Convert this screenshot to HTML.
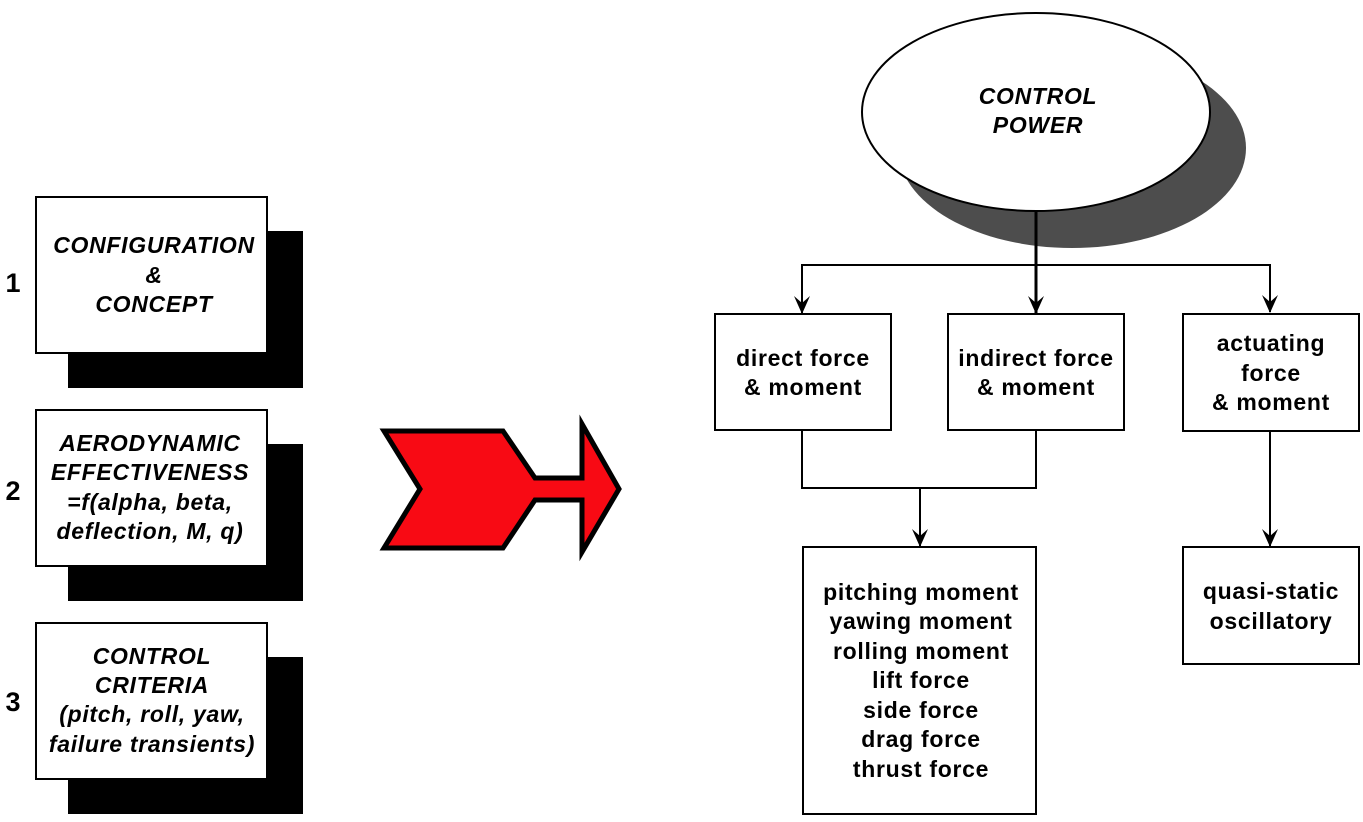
<!DOCTYPE html>
<html><head><style>
body{margin:0;background:#fff;width:1363px;height:817px;overflow:hidden}
svg text{font-family:"Liberation Sans",sans-serif;font-weight:bold;font-size:23px;letter-spacing:0.7px;text-anchor:middle}
svg text.n{font-size:27px;letter-spacing:0}
.i{font-style:italic}
</style></head><body>
<svg width="1363" height="817" viewBox="0 0 1363 817">
<defs>
<marker id="b" markerWidth="16" markerHeight="18" refX="8" refY="17" orient="0" markerUnits="userSpaceOnUse" viewBox="0 0 16 18"><path d="M0,0 L8,7 L16,0 L8,18 Z" fill="#000"/></marker></defs>
<g stroke="#000" stroke-width="2">
<rect x="69" y="232" width="233" height="155" fill="#000"/>
<rect x="36" y="197" width="231" height="156" fill="#fff"/>
<rect x="69" y="445" width="233" height="155" fill="#000"/>
<rect x="36" y="410" width="231" height="156" fill="#fff"/>
<rect x="69" y="658" width="233" height="155" fill="#000"/>
<rect x="36" y="623" width="231" height="156" fill="#fff"/>
</g>
<text x="13" y="292" class="n">1</text>
<text x="13" y="500" class="n">2</text>
<text x="13" y="711" class="n">3</text>
<text x="154" y="253" class="i">CONFIGURATION</text>
<text x="154" y="283" class="i">&amp;</text>
<text x="154" y="312" class="i">CONCEPT</text>
<text x="150" y="451" class="i">AERODYNAMIC</text>
<text x="150" y="480" class="i">EFFECTIVENESS</text>
<text x="150" y="510" class="i">=f(alpha, beta,</text>
<text x="150" y="539" class="i">deflection, M, q)</text>
<text x="152" y="664" class="i">CONTROL</text>
<text x="152" y="693" class="i">CRITERIA</text>
<text x="152" y="722" class="i">(pitch, roll, yaw,</text>
<text x="152" y="752" class="i">failure transients)</text>
<path d="M384,431 L503,431 L535,478 L582,478 L582,424 L619,489 L582,552 L582,500 L535,500 L503,548 L384,548 L420,489 Z" fill="#f80a14" stroke="#000" stroke-width="5"/>
<ellipse cx="1072" cy="148" rx="174" ry="100" fill="#4d4d4d"/>
<ellipse cx="1036" cy="112" rx="174" ry="99" fill="#fff" stroke="#000" stroke-width="2"/>
<text x="1038" y="104" class="i">CONTROL</text>
<text x="1038" y="133" class="i">POWER</text>
<g stroke="#000" stroke-width="2" fill="none">
<line x1="1036" y1="211" x2="1036" y2="313" stroke-width="3" marker-end="url(#b)"/>
<polyline points="802,312 802,265 1270,265 1270,312" marker-end="url(#b)"/>
<line x1="802" y1="265" x2="802" y2="313" marker-end="url(#b)"/>
<polyline points="802,430 802,488 1036,488 1036,430"/>
<line x1="920" y1="488" x2="920" y2="546" marker-end="url(#b)"/>
<line x1="1270" y1="431" x2="1270" y2="546" marker-end="url(#b)"/>
<rect x="715" y="314" width="176" height="116" fill="#fff"/>
<rect x="948" y="314" width="176" height="116" fill="#fff"/>
<rect x="1183" y="314" width="176" height="117" fill="#fff"/>
<rect x="803" y="547" width="233" height="267" fill="#fff"/>
<rect x="1183" y="547" width="176" height="117" fill="#fff"/>
</g>
<text x="803" y="366">direct force</text>
<text x="803" y="395">&amp; moment</text>
<text x="1036" y="366">indirect force</text>
<text x="1036" y="395">&amp; moment</text>
<text x="1271" y="351">actuating</text>
<text x="1271" y="381">force</text>
<text x="1271" y="410">&amp; moment</text>
<text x="921" y="600">pitching moment</text>
<text x="921" y="629">yawing moment</text>
<text x="921" y="659">rolling moment</text>
<text x="921" y="688">lift force</text>
<text x="921" y="718">side force</text>
<text x="921" y="747">drag force</text>
<text x="921" y="777">thrust force</text>
<text x="1271" y="599">quasi-static</text>
<text x="1271" y="629">oscillatory</text>
</svg>
</body></html>
